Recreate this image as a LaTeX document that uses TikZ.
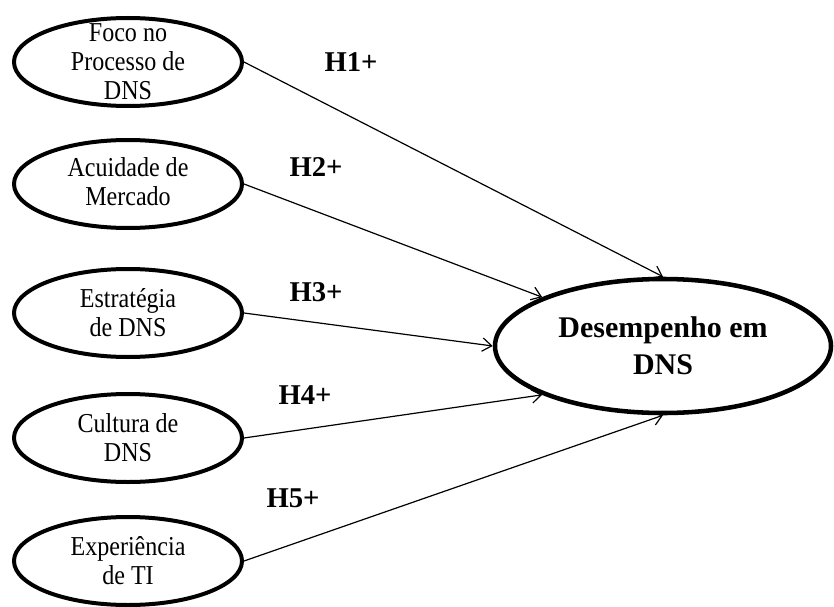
\documentclass[tikz,border=0pt]{standalone}
\usepackage{fontspec}
\setmainfont{Liberation Serif}
\newfontfamily\narrowserif[FakeStretch=0.88]{Liberation Serif}
\usetikzlibrary{shapes.geometric,arrows.meta}

\begin{document}
\begin{tikzpicture}[x=0.75pt,y=-0.75pt,
  factor/.style={ellipse,draw,line width=3pt,inner sep=0pt,
    minimum width=171pt,minimum height=66pt},
  outcome/.style={ellipse,draw,line width=3.4pt,inner sep=0pt,
    minimum width=252pt,minimum height=100.5pt},
  ftext/.style={align=center,inner sep=0pt,
    font=\narrowserif\fontsize{20.5}{21.75}\selectfont},
  otext/.style={align=center,inner sep=0pt,
    font=\fontsize{22.5}{27.75}\selectfont\bfseries},
  hyp/.style={inner sep=0pt,font=\fontsize{21.5}{25}\selectfont\bfseries},
  arr/.style={line width=0.9pt,-{Straight Barb[length=7pt,width=10pt,line width=0.9pt]}}
]
\useasboundingbox (0,0) rectangle (834,606);

% explanatory constructs
\node[factor] (e1) at (128,62)  {};
\node[factor] (e2) at (128,184) {};
\node[factor] (e3) at (128,313) {};
\node[factor] (e4) at (128,438) {};
\node[factor] (e5) at (128,561) {};

\node[ftext] (t1) at (e1.center) {Foco no\\Processo de\\DNS};
\node[ftext] (t2) at ([yshift=2pt]e2.center) {Acuidade de\\Mercado};
\node[ftext] (t3) at (e3.center) {Estratégia\\de DNS};
\node[ftext] (t4) at (e4.center) {Cultura de\\DNS};
\node[ftext] (t5) at (e5.center) {Experiência\\de TI};

% dependent construct
\node[outcome] (d) at (663,346) {};
\node[otext] (td) at (d.center) {Desempenho em\\DNS};

% hypothesised paths
\draw[arr] (e1.east) -- (d.north);
\draw[arr] (e2.east) -- (d.158);
\draw[arr] (e3.east) -- (d.west);
\draw[arr] (e4.east) -- (d.202);
\draw[arr] (e5.east) -- (d.south);

% hypothesis labels
\node[hyp] (h1) at (351,62)  {H1+};
\node[hyp] (h2) at (316,167) {H2+};
\node[hyp] (h3) at (316,292) {H3+};
\node[hyp] (h4) at (305,395) {H4+};
\node[hyp] (h5) at (293,498) {H5+};
\end{tikzpicture}
\end{document}
